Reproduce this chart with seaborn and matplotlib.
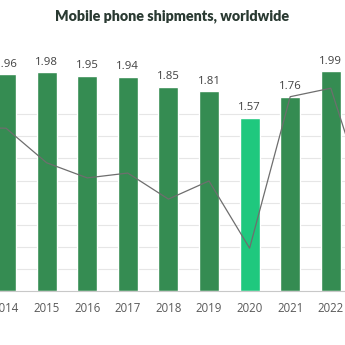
import matplotlib
matplotlib.use("Agg")
import matplotlib.pyplot as plt
import numpy as np
import pandas as pd
import seaborn as sns

# Shipments in billions of units, with year-on-year change (%) drawn as a line
years = ["2013", "2014", "2015", "2016", "2017", "2018", "2019", "2020", "2021", "2022", "2023"]
bar_years = ["2014", "2015", "2016", "2017", "2018", "2019", "2020", "2021", "2022"]
shipments = [1.96, 1.98, 1.95, 1.94, 1.85, 1.81, 1.57, 1.76, 1.99]
growth_pct = [6.5, 6.4, 0.7, -1.8, -1.0, -5.3, -2.3, -13.4, 11.6, 13.0, -7.8]
highlight_year = "2020"

base_green = "#358c52"
light_green = "#1fc87e"
palette = {y: (light_green if y == highlight_year else base_green) for y in bar_years}

sns.set_style("white")
plt.rcParams["font.family"] = ["Open Sans", "DejaVu Sans"]

fig = plt.figure(figsize=(3.45, 3.45), dpi=100)
ax = fig.add_axes([0.0, 54 / 345, 1.0, 251 / 345])

df = pd.DataFrame({"year": bar_years, "shipments": shipments})
sns.barplot(data=df, x="year", y="shipments", hue="year", palette=palette,
            order=years, legend=False, width=0.49, saturation=1, ax=ax, zorder=2)

for cont in ax.containers:
    ax.bar_label(cont, fmt="%.2f", padding=3, fontsize=8.2, color="#404040")

ax.set_ylim(0, 251 / 110.5)
ax.set_yticks(np.arange(0.2, 1.7, 0.2))
ax.yaxis.grid(True, color="#e6e6e6", linewidth=0.8, zorder=0)
ax.set_axisbelow(True)
ax.tick_params(axis="y", left=False, labelleft=False)
ax.set_xlim(0.852, 9.35)
ax.set_xlabel("")
ax.set_ylabel("")

ax.set_xticks(range(len(years)))
ax.set_xticklabels(years, fontsize=8.3, color="#595959")
ax.tick_params(axis="x", which="major", length=0, pad=8)
ax.set_xticks(np.arange(len(years)) + 0.5, minor=True)
ax.tick_params(axis="x", which="minor", length=4, width=0.8, color="#bfbfbf", direction="out")

for side in ["left", "right", "top"]:
    ax.spines[side].set_visible(False)
ax.spines["bottom"].set_color("#c8c8c8")
ax.spines["bottom"].set_linewidth(0.8)

ax2 = ax.twinx()
sns.lineplot(x=np.arange(len(years)), y=growth_pct, color="#6e6e6e", linewidth=0.9, ax=ax2)
ax2.set_ylim(-(291 - 167) / 6.06, (167 - 40) / 6.06)
ax2.set_xlim(0.852, 9.35)
ax2.axis("off")

fig.text(0.5, 1 - 16 / 345, "Mobile phone shipments, worldwide", ha="center", va="center",
         fontsize=10.3, fontweight="heavy", color="#2a3a32", family=["Lato", "DejaVu Sans"])

fig.savefig("out.png", dpi=100, facecolor="white")
